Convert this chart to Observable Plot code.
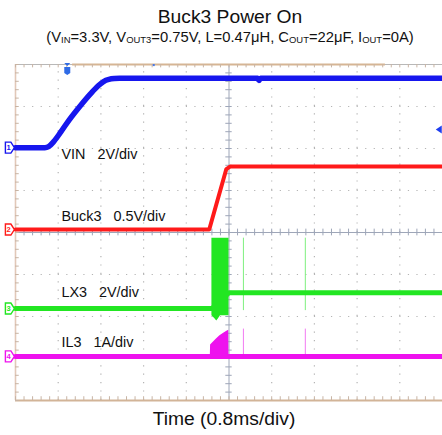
<!DOCTYPE html>
<html>
<head>
<meta charset="utf-8">
<script src="https://cdn.jsdelivr.net/npm/d3@7"></script>
<script src="https://cdn.jsdelivr.net/npm/@observablehq/plot@0.6"></script>
<style>
  body { margin: 0; background: #fff; font-family: "Liberation Sans", Arial, sans-serif; }
  #wrap { position: relative; width: 442px; height: 435px; overflow: hidden; background: #fff; }
  .t { position: absolute; white-space: nowrap; line-height: 1; color: #111; transform: translateX(-50%) scaleX(1.07); }
  #title { font-size: 18px; top: 8px; left: 230px; }
  #subtitle { font-size: 13.8px; top: 30.5px; left: 229.5px; }
  #caption { font-size: 18px; top: 410px; left: 223.5px; }
  sub { font-size: 0.64em; vertical-align: -0.12em; line-height: 0; }
  #chart { position: absolute; left: 0; top: 56px; }
</style>
</head>
<body>
<div id="wrap">
  <div class="t" id="title">Buck3 Power On</div>
  <div class="t" id="subtitle">(V<sub>IN</sub>=3.3V, V<sub>OUT3</sub>=0.75V, L=0.47μH, C<sub>OUT</sub>=22μF, I<sub>OUT</sub>=0A)</div>
  <div id="chart"></div>
  <div class="t" id="caption">Time (0.8ms/div)</div>
</div>
<script>
// Scope channels
const channelNames = ["VIN", "Buck3", "LX3", "IL3"];
const channelScale = [2, 0.5, 2, 1];          // units per division
const channelUnit  = ["V", "V", "V", "A"];
const channelNumber = ["1", "2", "3", "4"];

// CH1: VIN (V) vs time (ms)
const vinTime  = [0, 0.55, 0.62, 0.72, 0.85, 1.0, 1.2, 1.4, 1.55, 1.65, 1.75, 1.85, 1.95, 4.54, 4.56, 4.59, 8];
const vinVolts = [0, 0, 0.05, 0.3, 0.75, 1.3, 1.95, 2.55, 2.95, 3.15, 3.25, 3.29, 3.3, 3.3, 3.2, 3.3, 3.3];

// CH2: Buck3 output (V)
const buckTime  = [0, 3.63, 3.95, 4.02, 8];
const buckVolts = [0, 0, 0.72, 0.75, 0.75];

// CH3: LX3 switch node (V) and its switching burst envelope
const lxTime  = [0, 3.68, 4.0, 8];
const lxVolts = [0, 0, 0.75, 0.75];
const lxBurstTime = [3.68, 3.74, 3.77, 3.80, 3.84, 4.0];
const lxBurstLow  = [-0.35, -0.5, -0.6, -0.5, -0.35, -0.35];
const lxBurstHigh = [3.35, 3.35, 3.35, 3.35, 3.35, 3.35];

// CH4: inductor current IL3 (A) and its soft-start hump
const ilTime = [0, 8];
const ilAmps = [0, 0];
const ilHumpTime = [3.65, 3.655, 3.70, 3.76, 3.83, 3.90, 3.96, 3.995, 4.0];
const ilHumpAmps = [0, 0.27, 0.33, 0.41, 0.49, 0.55, 0.60, 0.62, 0];

// Isolated glitches after start-up
const spikeTime = [4.27, 5.43];
const lxSpikeLow = -0.1, lxSpikeHigh = 3.35;
const ilSpikeHigh = 0.65;

// Trigger: position (ms) and level on CH1 (V)
const triggerTime = 0.97;
const triggerLevel = 0.86;

// Ground reference of each channel, in divisions from the bottom of the screen
const offset = [6.02, 4.07, 2.19, 1.05];
const toDiv = (ch, v) => offset[ch] + v / channelScale[ch];

const colors = ["#1616ee", "#ff1a1a", "#22e622", "#ee12ee"];

const zip = (xs, ys) => xs.map((x, i) => ({x, y: ys[i]}));

// Graticule: 10 x 8 divisions, 5 minor ticks per division
const divT = 0.8;
const gridX = d3.range(1, 10).filter(k => k !== 5).map(k => k * divT);
const gridY = d3.range(1, 8).filter(k => k !== 4);
const minorX = d3.range(0, 51).map(k => k * divT / 5);
const minorY = d3.range(0, 41).map(k => k / 5);

// Channel ground marker: flag pointing right
const flag = {
  draw(ctx, size) {
    const s = Math.sqrt(size / Math.PI) / 5;
    ctx.moveTo(-4.5 * s, -5.5 * s);
    ctx.lineTo(1 * s, -5.5 * s);
    ctx.lineTo(4.5 * s, 0);
    ctx.lineTo(1 * s, 5.5 * s);
    ctx.lineTo(-4.5 * s, 5.5 * s);
    ctx.closePath();
  }
};
// Trigger position marker: small arrow over a tag
const trigFlag = {
  draw(ctx, size) {
    const s = Math.sqrt(size / Math.PI) / 5;
    ctx.moveTo(-3 * s, -7 * s); ctx.lineTo(3 * s, -7 * s); ctx.lineTo(0, -4 * s); ctx.closePath();
    ctx.moveTo(-3 * s, -3 * s); ctx.lineTo(3 * s, -3 * s); ctx.lineTo(3 * s, 3 * s);
    ctx.lineTo(0, 5 * s); ctx.lineTo(-3 * s, 3 * s); ctx.closePath();
  }
};
// Trigger level marker: arrow pointing left
const levelFlag = {
  draw(ctx, size) {
    const s = Math.sqrt(size / Math.PI) / 5;
    ctx.moveTo(3 * s, -4 * s); ctx.lineTo(3 * s, 4 * s); ctx.lineTo(-3 * s, 0); ctx.closePath();
  }
};

const labelY = [5.86, 4.38, 2.57, 1.38];
const labels = channelNames.map((n, i) => ({
  text: `${n}\u00a0\u00a0\u00a0${channelScale[i]}${channelUnit[i]}/div`,
  y: labelY[i]
}));

const markers = channelNumber.map((n, i) => ({n, i, y: toDiv(i, 0)}));

const chart = Plot.plot({
  width: 442,
  height: 352,
  marginTop: 8,
  marginBottom: 8,
  marginLeft: 15,
  marginRight: 0,
  x: {domain: [0, 8], axis: null},
  y: {domain: [0, 8], axis: null},
  style: {overflow: "visible", background: "transparent", fontFamily: "Liberation Sans, Arial, sans-serif"},
  marks: [
    // dotted graticule
    Plot.ruleX(gridX, {y1: 0, y2: 8, stroke: "#b4b4b4", strokeWidth: 1.2, strokeDasharray: "1.2,7.2"}),
    Plot.ruleY(gridY, {x1: 0, x2: 8, stroke: "#b4b4b4", strokeWidth: 1.2, strokeDasharray: "1.2,7.34"}),
    // centre axes with minor ticks
    Plot.ruleX([4], {y1: 0, y2: 8, stroke: "#9ea6b8", strokeWidth: 1}),
    Plot.ruleY([4], {x1: 0, x2: 8, stroke: "#9ea6b8", strokeWidth: 1}),
    Plot.ruleX(minorX, {y1: 3.92, y2: 4.08, stroke: "#9ea6b8", strokeWidth: 1}),
    Plot.ruleY(minorY, {x1: 3.94, x2: 4.06, stroke: "#9ea6b8", strokeWidth: 1}),
    // screen border
    Plot.ruleY([8], {x1: 0, x2: 8, stroke: "#b8b8b8", strokeWidth: 1}),
    Plot.ruleY([8], {x1: 1.07, x2: 6.93, stroke: "#d6b594", strokeWidth: 2.2}),
    Plot.ruleY([0], {x1: 0, x2: 8, stroke: "#d2b498", strokeWidth: 2}),
    Plot.ruleX([0], {y1: 0, y2: 8, stroke: "#e2c8b8", strokeWidth: 1.6}),
    Plot.ruleX(minorX, {y1: 7.92, y2: 8, stroke: "#c8b4a4", strokeWidth: 1}),
    Plot.ruleX(minorX, {y1: 0, y2: 0.09, stroke: "#c8b4a4", strokeWidth: 1}),
    Plot.ruleY(minorY, {x1: 0, x2: 0.07, stroke: "#c8b4a4", strokeWidth: 1}),

    // CH4 IL3
    Plot.areaY(zip(ilHumpTime, ilHumpAmps), {x: "x", y1: toDiv(3, 0), y2: d => toDiv(3, d.y), fill: colors[3]}),
    Plot.ruleX(spikeTime, {y1: toDiv(3, 0), y2: toDiv(3, ilSpikeHigh), stroke: "#f27af2", strokeWidth: 1}),
    Plot.line(zip(ilTime, ilAmps), {x: "x", y: d => toDiv(3, d.y), stroke: colors[3], strokeWidth: 5}),

    // CH3 LX3
    Plot.ruleX(spikeTime, {y1: toDiv(2, lxSpikeLow), y2: toDiv(2, lxSpikeHigh), stroke: "#7ef07e", strokeWidth: 1}),
    Plot.line(zip(lxTime, lxVolts), {x: "x", y: d => toDiv(2, d.y), stroke: colors[2], strokeWidth: 5}),
    Plot.areaY(lxBurstTime.map((t, i) => ({t, lo: lxBurstLow[i], hi: lxBurstHigh[i]})),
      {x: "t", y1: d => toDiv(2, d.lo), y2: d => toDiv(2, d.hi), fill: colors[2]}),

    // CH2 Buck3
    Plot.line(zip(buckTime, buckVolts), {x: "x", y: d => toDiv(1, d.y), stroke: colors[1], strokeWidth: 4, strokeLinejoin: "round"}),

    // CH1 VIN
    Plot.line(zip(vinTime, vinVolts), {x: "x", y: d => toDiv(0, d.y), stroke: colors[0], strokeWidth: 5.5, curve: "monotone-x"}),

    // channel labels
    Plot.text(labels, {x: 0.86, y: "y", text: "text", textAnchor: "start", fontSize: 14.4, fill: "#111"}),

    // ground markers
    Plot.dot(markers, {x: -0.105, y: "y", symbol: flag, r: 5, fill: "#fff", stroke: d => colors[d.i], strokeWidth: 1.4}),
    Plot.text(markers, {x: -0.13, y: "y", text: "n", fill: d => colors[d.i], fontSize: 7.5, fontWeight: "bold"}),

    // trigger markers
    Plot.dot([triggerTime], {x: d => d, y: 7.87, symbol: trigFlag, r: 5, fill: "#2f6be6"}),
    Plot.ruleX([2.59], {y1: 7.95, y2: 8, stroke: "#4a7be8", strokeWidth: 2}),
    Plot.dot([triggerLevel], {x: 7.93, y: d => toDiv(0, d), symbol: levelFlag, r: 5, fill: "#1e3ef0"})
  ]
});

document.getElementById("chart").appendChild(chart);
</script>
</body>
</html>
